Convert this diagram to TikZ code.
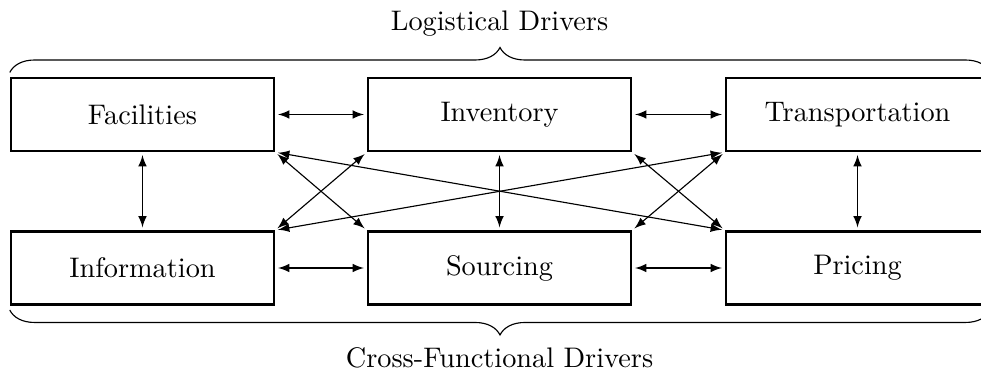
\documentclass[tikz,border=0pt]{standalone}
\usetikzlibrary{decorations.pathreplacing}
\tikzset{
  driver/.style={draw, thick, minimum width=3.27cm, minimum height=0.91cm, inner sep=2pt},
  link/.style={<->, shorten <=1pt, shorten >=1pt},
  curly/.style={decorate, decoration={brace, amplitude=0.31cm}}
}
\begin{document}
\begin{tikzpicture}[>=latex, scale=1]
    \useasboundingbox (0,0) rectangle (12.186,-4.621);
    % logistical drivers
    \node[driver] (fac) at (1.770,-1.422) {Facilities};
    \node[driver] (inv) at (6.205,-1.422) {Inventory};
    \node[driver] (tra) at (10.652,-1.422) {Transportation};
    % cross-functional drivers
    \node[driver] (inf) at (1.770,-3.329) {Information};
    \node[driver] (sou) at (6.205,-3.329) {Sourcing};
    \node[driver] (pri) at (10.652,-3.329) {Pricing};
    \draw[link](fac)--(inv);
    \draw[link](inv)--(tra);
    \draw[link](inf)--(sou);
    \draw[link](sou)--(pri);
    \draw[link](fac)--(inf);
    \draw[link](inv)--(sou);
    \draw[link](tra)--(pri);
    \draw[link](fac.south east)--(sou.north west);
    \draw[link](fac.south east)--(pri.north west);
    \draw[link](inv.south west)--(inf.north east);
    \draw[link](inv.south east)--(pri.north west);
    \draw[link](tra.south west)--(inf.north east);
    \draw[link](tra.south west)--(sou.north east);
    \draw[curly]([yshift=1.5pt]fac.north west)--([yshift=1.5pt]tra.north east);
    \draw[curly]([yshift=-1.5pt]pri.south east)--([yshift=-1.5pt]inf.south west);
    \node[anchor=base] (log) at (6.205,-0.385) {Logistical Drivers};
    \node[anchor=base] (cro) at (6.205,-4.571) {Cross-Functional Drivers};
\end{tikzpicture}
\end{document}
